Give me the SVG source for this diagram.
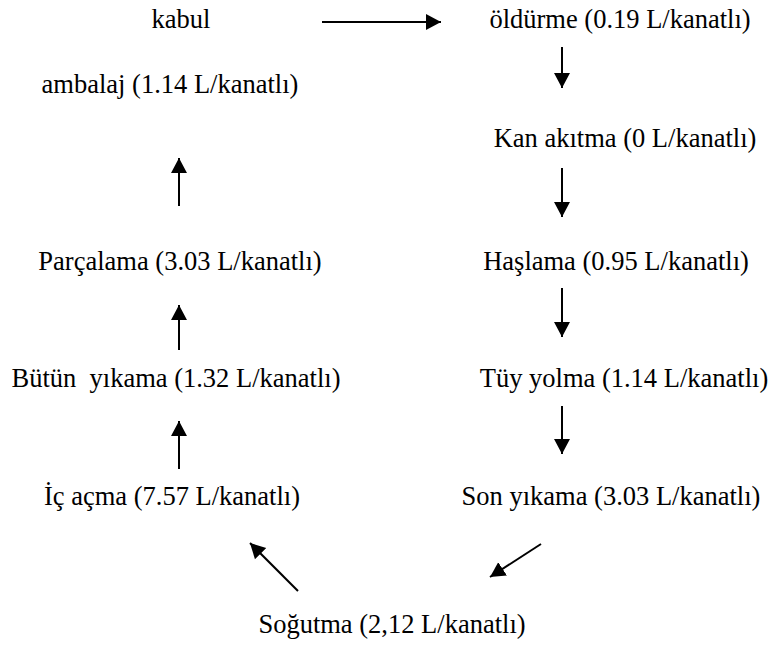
<svg xmlns="http://www.w3.org/2000/svg" width="773" height="650" viewBox="0 0 773 650">
<style>
  text { font-family: "Liberation Serif", "Times New Roman", serif; font-size: 26.5px; fill: #000; text-anchor: middle; }
  .c line { stroke: #000; stroke-width: 2; fill: none; marker-end: url(#ah); }
</style>
<defs>
  <marker id="ah" markerUnits="userSpaceOnUse" markerWidth="16" markerHeight="17" refX="15" refY="8" orient="auto" viewBox="0 0 16 16">
    <path d="M0,0 L15,8 L0,16 Z" fill="#000"/>
  </marker>
</defs>
<rect width="773" height="650" fill="#fff"/>
<g id="kabul"><text x="181" y="28">kabul</text></g>
<g id="oldurme"><text x="620" y="28">öldürme (0.19 L/kanatlı)</text></g>
<g id="kan"><text x="625" y="147">Kan akıtma (0 L/kanatlı)</text></g>
<g id="haslama"><text x="616" y="270">Haşlama (0.95 L/kanatlı)</text></g>
<g id="tuy"><text x="624" y="387">Tüy yolma (1.14 L/kanatlı)</text></g>
<g id="son"><text x="611" y="505">Son yıkama (3.03 L/kanatlı)</text></g>
<g id="sogutma"><text x="392" y="633">Soğutma (2,12 L/kanatlı)</text></g>
<g id="ic"><text x="172" y="505">İç açma (7.57 L/kanatlı)</text></g>
<g id="butun"><text x="176" y="387" xml:space="preserve">Bütün  yıkama (1.32 L/kanatlı)</text></g>
<g id="parcalama"><text x="180" y="270">Parçalama (3.03 L/kanatlı)</text></g>
<g id="ambalaj"><text x="170" y="93">ambalaj (1.14 L/kanatlı)</text></g>
<g id="connectors" class="c">
  <line x1="322" y1="22" x2="441" y2="22"/>
  <line x1="562" y1="47" x2="562" y2="88"/>
  <line x1="562" y1="168" x2="562" y2="217"/>
  <line x1="562" y1="288" x2="562" y2="337"/>
  <line x1="562" y1="406" x2="562" y2="454"/>
  <line x1="541" y1="544" x2="490" y2="577"/>
  <line x1="298" y1="591" x2="250" y2="543"/>
  <line x1="179" y1="469" x2="179" y2="421"/>
  <line x1="179" y1="350" x2="179" y2="305"/>
  <line x1="179" y1="206" x2="179" y2="158"/>
</g>
</svg>
